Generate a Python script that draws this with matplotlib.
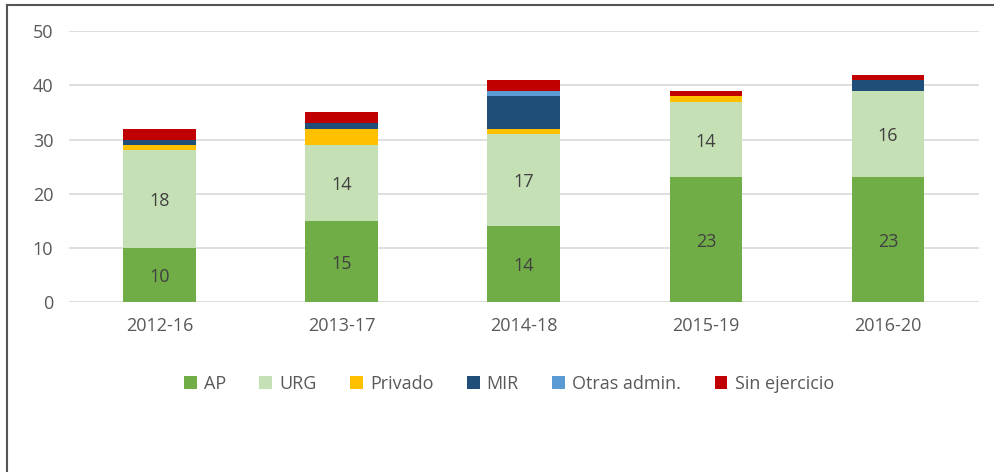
import matplotlib
matplotlib.use("Agg")
import matplotlib.pyplot as plt
import numpy as np
from matplotlib.lines import Line2D
from matplotlib.patches import Patch

categories = ["2012-16", "2013-17", "2014-18", "2015-19", "2016-20"]
series_names = ["AP", "URG", "Privado", "MIR", "Otras admin.", "Sin ejercicio"]
ap = [10, 15, 14, 23, 23]
urg = [18, 14, 17, 14, 16]
privado = [1, 3, 1, 1, 0]
mir = [1, 1, 6, 0, 2]
otras = [0, 0, 1, 0, 0]
sin_ejercicio = [2, 2, 2, 1, 1]
colors = ["#70AD47", "#C5E0B4", "#FFC000", "#1F4E79", "#5B9BD5", "#C00000"]
labelled = {"AP": ap, "URG": urg}

plt.rcParams['font.family'] = ['Open Sans', 'DejaVu Sans']
fig = plt.figure(figsize=(9.94, 4.72), dpi=100)
ax = fig.add_axes([0.069, 0.36, 0.916, 0.574])

data = [ap, urg, privado, mir, otras, sin_ejercicio]
x = np.arange(len(categories))
bottom = np.zeros(len(categories))
for name, vals, c in zip(series_names, data, colors):
    v = np.array(vals, dtype=float)
    ax.bar(x, v, 0.4, bottom=bottom, color=c, label=name, zorder=3)
    if name in labelled:
        for xi, b, h in zip(x, bottom, v):
            ax.text(xi, b + h / 2 - 0.4, f"{int(h)}", ha="center", va="center",
                    fontsize=13, color="#404040", zorder=4)
    bottom += v

ax.set_xlim(-0.5, len(categories) - 0.5)
ax.set_ylim(0, 50)
ax.set_yticks(range(0, 51, 10))
ax.set_xticks(x)
ax.set_xticklabels(categories)
ax.grid(axis="y", color="#D9D9D9", linewidth=1.2, zorder=0)
for s in ax.spines.values():
    s.set_visible(False)
ax.tick_params(axis="both", length=0, labelsize=13, colors="#595959")
ax.tick_params(axis="y", pad=11)
ax.tick_params(axis="x", pad=11)

handles = [Patch(facecolor=c, edgecolor="none") for c in colors]
fig.legend(handles, series_names, loc="center", bbox_to_anchor=(0.512, 0.187),
           ncol=6, frameon=False, fontsize=13, handlelength=0.7, handleheight=0.7,
           handletextpad=0.4, columnspacing=1.85, labelcolor="#595959")

# outer frame (top and left edges)
fig.add_artist(Line2D([0.007, 0.999], [1 - 5/472, 1 - 5/472], color="#555555", lw=1.5,
                      transform=fig.transFigure))
fig.add_artist(Line2D([0.007, 0.007], [0, 1 - 5/472], color="#555555", lw=1.5,
                      transform=fig.transFigure))

fig.savefig("out.png", dpi=100)
